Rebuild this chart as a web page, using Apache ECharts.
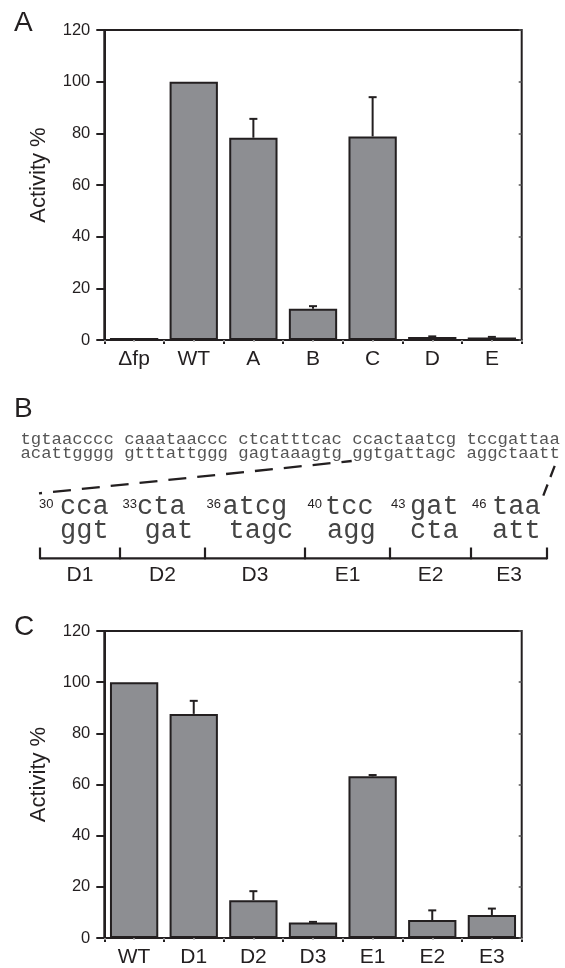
<!DOCTYPE html>
<html>
<head>
<meta charset="utf-8">
<script src="https://cdn.jsdelivr.net/npm/echarts@6/dist/echarts.min.js"></script>
<style>
html,body{margin:0;padding:0;background:#fff;}
#c{width:565px;height:968px;}
</style>
</head>
<body>
<div id="c"></div>
<script>
// ---- data ----
const catsA = ['Δfp', 'WT', 'A', 'B', 'C', 'D', 'E'];
const valsA = [0.8, 100, 78.3, 12.1, 78.8, 1.2, 1.0];
const errA  = [0, 0, 7.3, 1.0, 15.2, 0.2, 0.2];
const catsC = ['WT', 'D1', 'D2', 'D3', 'E1', 'E2', 'E3'];
const valsC = [100, 87.6, 14.8, 6.1, 63.2, 7.0, 9.0];
const errC  = [0, 5.1, 3.5, 0.2, 0.5, 3.8, 2.5];
const yMin = 0, yMax = 120, yStep = 20;
const yName = 'Activity %';

// panel B text content
const topStrand = 'tgtaacccc caaataaccc ctcatttcac ccactaatcg tccgattaa';
const botStrand = 'acattgggg gtttattggg gagtaaagtg ggtgattagc aggctaatt';
const codonTop = ['cca', 'cta', 'atcg', 'tcc', 'gat', 'taa'];
const codonBot = ['ggt', 'gat', 'tagc', 'agg', 'cta', 'att'];
const codonPos = ['30', '33', '36', '40', '43', '46'];
const segLabels = ['D1', 'D2', 'D3', 'E1', 'E2', 'E3'];

// ---- layout (diagram positions, not data) ----
const INK = '#231f20';
const BAR = '#8d8e92';
const SANS = '"Liberation Sans", Arial, Helvetica, sans-serif';
const MONO = '"Liberation Mono", "DejaVu Sans Mono", monospace';
const supX = [39, 122.5, 206.5, 307.5, 391, 472];
const topX = [60, 137, 222.5, 325, 410, 492];
const botX = [60, 144.5, 228.5, 327, 410, 492];
const bracketX = [40, 120, 205, 305, 390, 471, 547];

const chart = echarts.init(document.getElementById('c'), null, {renderer: 'canvas'});

function errData(vals, errs) {
  const out = [];
  vals.forEach((v, i) => { if (errs[i] > 0) out.push([i, v, v + errs[i]]); });
  return out;
}
function renderErr(params, api) {
  const x = api.value(0);
  const lo = api.coord([x, api.value(1)]);
  const hi = api.coord([x, api.value(2)]);
  const hw = 4;
  const st = {stroke: INK, lineWidth: 2};
  return {type: 'group', children: [
    {type: 'line', shape: {x1: lo[0], y1: lo[1], x2: hi[0], y2: hi[1]}, style: st},
    {type: 'line', shape: {x1: hi[0] - hw, y1: hi[1], x2: hi[0] + hw, y2: hi[1]}, style: st}
  ]};
}

function catAxis(grid, cats) {
  return {
    type: 'category', gridIndex: grid, data: cats, position: 'bottom',
    axisLine: {show: true, lineStyle: {color: INK, width: 2}},
    axisTick: {show: true, length: 4, lineStyle: {color: INK, width: 2}},
    axisLabel: {color: INK, fontSize: 21, fontFamily: SANS, margin: 9}
  };
}
function topDeco(grid) {
  return {
    type: 'value', gridIndex: grid, position: 'top', min: 0, max: 14, interval: 1,
    axisLine: {show: false}, splitLine: {show: false},
    axisTick: {show: true, inside: true, length: 2, lineStyle: {color: '#b0b0b0', width: 1.5}},
    axisLabel: {show: false}
  };
}
function valAxis(grid) {
  return {
    type: 'value', gridIndex: grid, position: 'left', min: yMin, max: yMax, interval: yStep,
    name: yName, nameLocation: 'middle', nameGap: 54,
    nameTextStyle: {color: INK, fontSize: 22, fontFamily: SANS, padding: [0, 0, 0, 20]},
    axisLine: {show: true, lineStyle: {color: INK, width: 2}},
    axisTick: {show: true, length: 8, lineStyle: {color: INK, width: 2}},
    axisLabel: {color: INK, fontSize: 16.5, fontFamily: SANS, margin: 14},
    splitLine: {show: false}
  };
}
function rightDeco(grid) {
  return {
    type: 'value', gridIndex: grid, position: 'right', min: yMin, max: yMax, interval: yStep,
    axisLine: {show: false}, splitLine: {show: false},
    axisTick: {show: true, inside: true, length: 3, lineStyle: {color: '#555', width: 1.5}},
    axisLabel: {show: false}
  };
}
function barSeries(xi, yi, vals) {
  return {
    type: 'bar', xAxisIndex: xi, yAxisIndex: yi, data: vals, barCategoryGap: '19%',
    itemStyle: {color: BAR, borderColor: INK, borderWidth: 2}, z: 2, silent: true
  };
}
function errSeries(xi, yi, vals, errs) {
  return {
    type: 'custom', xAxisIndex: xi, yAxisIndex: yi, data: errData(vals, errs),
    renderItem: renderErr, z: 5, silent: true
  };
}

// panel B graphics
const g = [];
function txt(text, x, y, size, family, fill, align) {
  g.push({type: 'text', x: x, y: y, silent: true, style: {
    text: text, fontSize: size, fontFamily: family, fill: fill,
    align: align || 'left', verticalAlign: 'middle',
    textAlign: align || 'left', textVerticalAlign: 'middle'
  }});
}
txt('A', 14, 23, 28, SANS, INK);
txt('B', 14, 409, 28, SANS, INK);
txt('C', 14, 627, 28, SANS, INK);
txt(topStrand, 20.5, 439, 17.3, MONO, '#555');
txt(botStrand, 20.5, 453, 17.3, MONO, '#555');
codonTop.forEach((c, i) => {
  txt(codonPos[i], supX[i], 504, 13, SANS, INK);
  txt(c, topX[i], 507, 27, MONO, '#444');
  txt(codonBot[i], botX[i], 531, 27, MONO, '#444');
});
// left dashed connector: a dot, then regular dashes
g.push({type: 'line', silent: true, shape: {x1: 39, y1: 493.3, x2: 42, y2: 493},
  style: {stroke: INK, lineWidth: 2.3}});
g.push({type: 'line', silent: true, shape: {x1: 53, y1: 491.9, x2: 351.7, y2: 461},
  style: {stroke: INK, lineWidth: 2.3, lineDash: [18, 11]}});
g.push({type: 'line', silent: true, shape: {x1: 543.3, y1: 495.7, x2: 555, y2: 465},
  style: {stroke: INK, lineWidth: 2.3, lineDash: [12, 8]}});
g.push({type: 'line', silent: true, shape: {x1: bracketX[0], y1: 558.3, x2: bracketX[bracketX.length - 1], y2: 558.3},
  style: {stroke: INK, lineWidth: 2.2}});
bracketX.forEach(x => g.push({type: 'line', silent: true, shape: {x1: x, y1: 547.5, x2: x, y2: 559.3},
  style: {stroke: INK, lineWidth: 2.2}}));
segLabels.forEach((s, i) => txt(s, (bracketX[i] + bracketX[i + 1]) / 2, 575, 21, SANS, INK, 'center'));

chart.setOption({
  animation: false,
  backgroundColor: '#fff',
  textStyle: {fontFamily: SANS},
  grid: [
    {left: 104.3, top: 30, width: 417.4, height: 310, show: true, borderColor: INK, borderWidth: 2, backgroundColor: 'transparent', containLabel: false},
    {left: 104.3, top: 631, width: 417.4, height: 309.7, show: true, borderColor: INK, borderWidth: 2, backgroundColor: 'transparent', containLabel: false}
  ],
  xAxis: [catAxis(0, catsA), topDeco(0), catAxis(1, catsC), topDeco(1)],
  yAxis: [valAxis(0), rightDeco(0), valAxis(1), rightDeco(1)],
  series: [
    barSeries(0, 0, valsA), errSeries(0, 0, valsA, errA),
    barSeries(2, 2, valsC), errSeries(2, 2, valsC, errC)
  ],
  graphic: g
});
</script>
</body>
</html>
